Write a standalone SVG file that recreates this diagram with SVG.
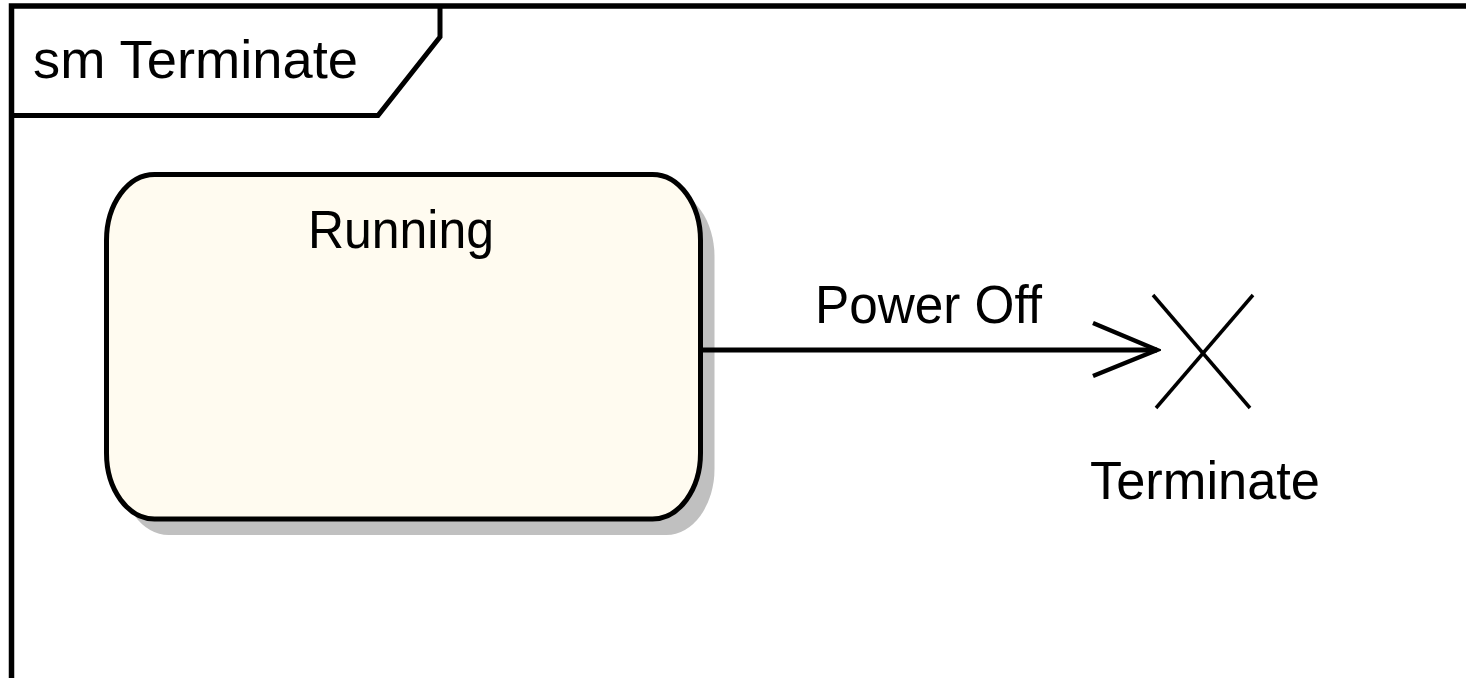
<svg xmlns="http://www.w3.org/2000/svg" width="1466" height="678" viewBox="0 0 1466 678">
  <style>
    .lbl { font-family: "Liberation Sans", Arial, sans-serif; font-size: 53px; fill: #000; }
    .ln { fill: none; stroke: #000; }
  </style>
  <defs>
    <marker id="open" markerUnits="userSpaceOnUse" viewBox="0 0 70 60" refX="66" refY="30" markerWidth="70" markerHeight="60" orient="auto">
      <polyline points="2,3 66,30 2,56" fill="none" stroke="#000" stroke-width="4.5"/>
    </marker>
  </defs>
  <rect width="1466" height="678" fill="#fff"/>
  <g id="frame">
    <path class="ln" d="M11.5,678 V6 H1466" stroke-width="5.5"/>
    <path class="ln" d="M11.5,115.5 H378 L440,37 V6" stroke-width="5"/>
    <text class="lbl" x="33" y="78" textLength="325" lengthAdjust="spacingAndGlyphs">sm Terminate</text>
  </g>
  <g id="running">
    <rect x="120.5" y="190.5" width="594" height="344.5" rx="48" ry="66" fill="#C0C0C0"/>
    <rect x="106.5" y="174.5" width="594" height="344.5" rx="48" ry="66" fill="#FFFBF0" stroke="#000" stroke-width="5"/>
    <text class="lbl" x="308" y="248" textLength="186" lengthAdjust="spacingAndGlyphs">Running</text>
  </g>
  <g id="terminate">
    <line class="ln" x1="1153" y1="295" x2="1250" y2="408" stroke-width="3.5"/>
    <line class="ln" x1="1253" y1="295" x2="1156" y2="408" stroke-width="3.5"/>
    <text class="lbl" x="1090" y="499" textLength="230" lengthAdjust="spacingAndGlyphs">Terminate</text>
  </g>
  <g id="connectors">
    <line class="ln" x1="703" y1="350" x2="1157" y2="350" stroke-width="5" marker-end="url(#open)"/>
    <text class="lbl" x="815" y="323" textLength="227" lengthAdjust="spacingAndGlyphs">Power Off</text>
  </g>
</svg>
